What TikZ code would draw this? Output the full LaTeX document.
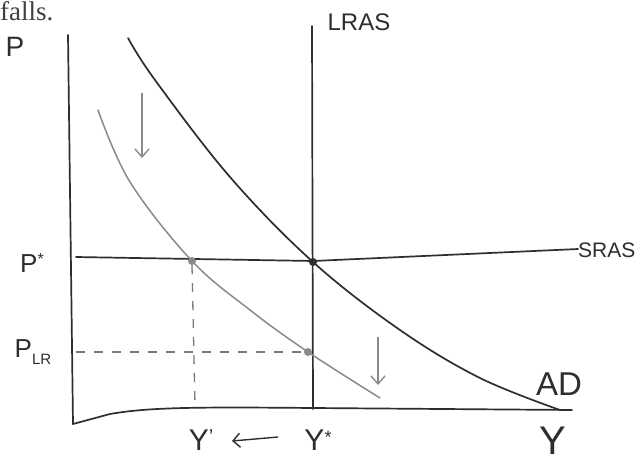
\documentclass[tikz,border=0pt]{standalone}
\usepackage{fontspec}
\setmainfont{Liberation Serif}
\setsansfont{Liberation Sans}
\usetikzlibrary{arrows.meta}
\definecolor{ink}{HTML}{2E2E2E}
\definecolor{pencil}{HTML}{8A8A8A}
\definecolor{dash}{HTML}{7A7A7A}
\newcommand{\handsz}[1]{\sffamily\fontsize{#1}{#1}\selectfont}
\begin{document}
\begin{tikzpicture}[x=1pt,y=-1pt,
  inkline/.style={draw=ink,line width=1.7pt,line cap=round},
  pencilline/.style={draw=pencil,line width=1.5pt,line cap=round},
  dashline/.style={draw=dash,line width=1.3pt,dash pattern=on 9pt off 9pt},
  lbl/.style={text=ink,inner sep=0pt,anchor=center},
  dot/.style={circle,inner sep=0pt,minimum size=8pt},
  downarrow/.style={draw=pencil,line width=1.4pt,-{Straight Barb[length=8pt,width=14pt]}}]
\useasboundingbox (0,0) rectangle (640,468);
\fill[white] (0,0) rectangle (640,468);

% caption fragment
\node[anchor=base west,inner sep=0pt,font=\fontsize{27}{27}\selectfont,text=black!75] (falls) at (0,21) {falls.};

% axes
\coordinate (ytop) at (68,35);
\coordinate (origin) at (73,424);
\draw[inkline] (ytop) -- (origin);
\draw[inkline] (origin) -- (110,414) .. controls (150,407) and (200,407) .. (313,408) -- (572,410);

% LRAS
\coordinate (lrastop) at (312,26);
\coordinate (lrasbot) at (313,409);
\draw[inkline] (lrastop) -- (lrasbot);
\node[lbl,font=\handsz{24}] (lras) at (359,22) {LRAS};

% SRAS
\coordinate (srasl) at (76,257);
\coordinate (srasr) at (578,249);
\draw[inkline] (srasl) -- (313,261) -- (srasr);
\node[lbl,font=\handsz{21},anchor=west] (sras) at (578,250) {SRAS};

% AD
\draw[inkline] plot[smooth,tension=0.6] coordinates {(128,38) (155,80) (230,177) (313,262) (400,330) (480,378) (560,410)};
\node[lbl,font=\handsz{33}] (ad) at (559,384) {AD};

% new AD (gray)
\draw[pencilline] plot[smooth,tension=0.6] coordinates {(98,110) (130,182) (192,261) (250,310) (308,352) (380,398)};

% intersection dots and dashed guides
\node[dot,fill=pencil] (e1) at (192,261) {};
\node[dot,fill=pencil] (e2) at (308,352) {};
\node[dot,fill=ink] (e0) at (313,262) {};
\coordinate (plr) at (76,352);
\coordinate (y1bot) at (195,405);
\draw[dashline] (plr) -- (e2.west);
\draw[dashline] (e1.south) -- (y1bot);

% shift arrows
\coordinate (a1s) at (142,93);
\coordinate (a1e) at (142,158);
\draw[downarrow] (a1s) -- (a1e);
\coordinate (a2s) at (378,337);
\coordinate (a2e) at (378,385);
\draw[downarrow] (a2s) -- (a2e);

% axis labels
\node[lbl,font=\handsz{28}] (P) at (15,47) {P};
\node[lbl,font=\handsz{26}] (Pstar) at (32,263) {P\raisebox{0.55ex}{\fontsize{16}{16}\selectfont *}};
\node[lbl,font=\handsz{26}] (PLR) at (33,352) {P\raisebox{-0.45ex}{\fontsize{15}{15}\selectfont LR}};
\node[lbl,font=\handsz{30}] (y1) at (201,440) {Y\raisebox{0.45ex}{\fontsize{20}{20}\selectfont '}};
\node[lbl,font=\handsz{30}] (ystar) at (318,440) {Y\raisebox{0.45ex}{\fontsize{18}{18}\selectfont *}};
\node[lbl,font=\handsz{40}] (Y) at (553,441) {Y};
\coordinate (la1) at (278,437);
\coordinate (la2) at (232,441);
\draw[draw=ink,line width=1.4pt,-{Straight Barb[length=7pt,width=14pt]}] (la1) -- (la2);
\end{tikzpicture}
\end{document}
